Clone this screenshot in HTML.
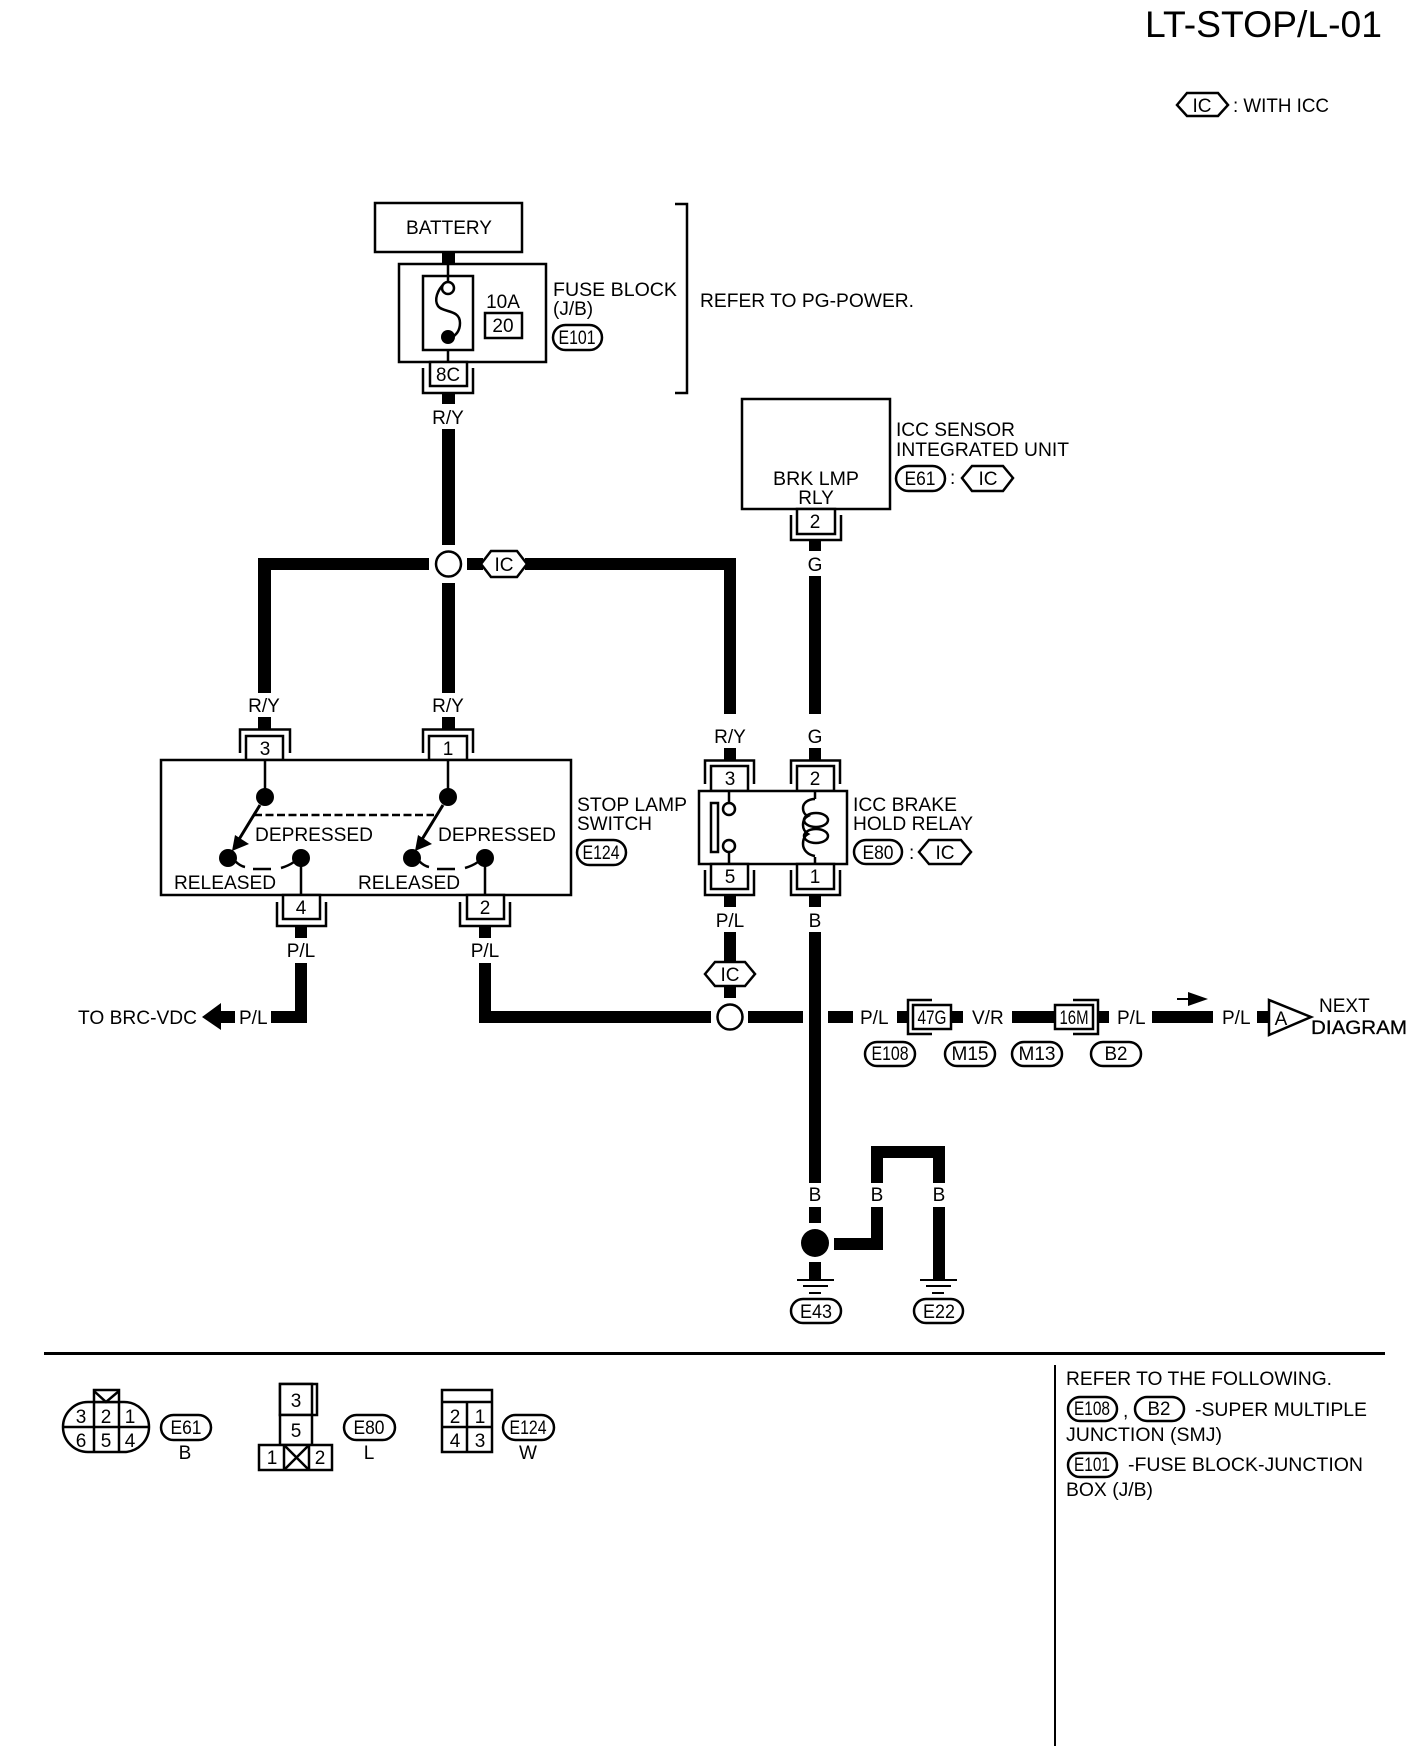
<!DOCTYPE html>
<html><head><meta charset="utf-8"><title>LT-STOP/L-01</title>
<style>
html,body{margin:0;padding:0;background:#fff;width:1408px;height:1758px;overflow:hidden}
svg{display:block}
text{font-family:"Liberation Sans",sans-serif;font-size:19px;fill:#000}
.m{text-anchor:middle}
.p{font-size:19px;text-anchor:middle}
.s{fill:none;stroke:#000;stroke-width:2.5}
.w{fill:#fff;stroke:#000;stroke-width:2.5}
.k{fill:#000}
</style></head><body>
<svg width="1408" height="1758" viewBox="0 0 1408 1758" xmlns="http://www.w3.org/2000/svg">
<rect width="1408" height="1758" fill="#fff"/>

<!-- header -->
<text x="1145" y="37" style="font-size:37px" textLength="237" lengthAdjust="spacingAndGlyphs">LT-STOP/L-01</text>
<polygon class="w" points="1177,105 1187,93 1218,93 1228,105 1218,116 1187,116"/>
<text class="p" x="1202" y="112">IC</text>
<text x="1233" y="112" textLength="96" lengthAdjust="spacingAndGlyphs">: WITH ICC</text>

<!-- wires -->
<g class="k" shape-rendering="crispEdges">
<rect x="442" y="252" width="13" height="12"/>
<rect x="442" y="393" width="13" height="11"/>
<rect x="442" y="429" width="13" height="116"/>
<rect x="442" y="583" width="13" height="110"/>
<rect x="442" y="717" width="13" height="12"/>
<rect x="258" y="558" width="171" height="12"/>
<rect x="258" y="558" width="13" height="135"/>
<rect x="258" y="717" width="13" height="12"/>
<rect x="467" y="558" width="16" height="12"/>
<rect x="525" y="558" width="211" height="12"/>
<rect x="724" y="558" width="12" height="156"/>
<rect x="724" y="748" width="12" height="12"/>
<rect x="809" y="541" width="12" height="10"/>
<rect x="809" y="576" width="12" height="138"/>
<rect x="809" y="748" width="12" height="12"/>
<rect x="724" y="895" width="12" height="12"/>
<rect x="724" y="932" width="12" height="30"/>
<rect x="724" y="987" width="12" height="11"/>
<rect x="809" y="895" width="12" height="12"/>
<rect x="809" y="932" width="12" height="251"/>
<rect x="295" y="926" width="12" height="12"/>
<rect x="295" y="963" width="12" height="60"/>
<rect x="271" y="1011" width="36" height="12"/>
<rect x="221" y="1011" width="14" height="12"/>
<rect x="479" y="926" width="12" height="12"/>
<rect x="479" y="963" width="12" height="60"/>
<rect x="479" y="1011" width="232" height="12"/>
<rect x="748" y="1011" width="55" height="12"/>
<rect x="828" y="1011" width="25" height="12"/>
<rect x="897" y="1011" width="10" height="12"/>
<rect x="951" y="1011" width="12" height="12"/>
<rect x="1012" y="1011" width="43" height="12"/>
<rect x="1098" y="1011" width="11" height="12"/>
<rect x="1152" y="1011" width="61" height="12"/>
<rect x="1257" y="1011" width="12" height="12"/>
<rect x="809" y="1207" width="12" height="16"/>
<rect x="809" y="1262" width="12" height="18"/>
<rect x="834" y="1238" width="49" height="12"/>
<rect x="871" y="1207" width="12" height="43"/>
<rect x="871" y="1146" width="12" height="37"/>
<rect x="871" y="1146" width="74" height="12"/>
<rect x="933" y="1146" width="12" height="37"/>
<rect x="933" y="1207" width="12" height="73"/>
</g>

<!-- battery + fuse block -->
<rect class="w" x="375" y="203" width="147" height="49"/>
<text class="m" x="449" y="234" textLength="86" lengthAdjust="spacingAndGlyphs">BATTERY</text>
<rect class="w" x="399" y="264" width="147" height="98"/>
<rect class="w" x="423" y="276" width="50" height="74"/>
<path class="s" d="M448,264V283M448,350V362"/>
<path class="s" d="M445,283C437,290 434,300 438,306C443,313 460,309 460,323C460,331 456,335 451,338"/>
<circle class="w" cx="448" cy="288" r="6"/>
<circle class="k" cx="448" cy="337" r="7"/>
<text class="m" x="503" y="308">10A</text>
<rect class="w" x="485" y="313" width="37" height="25"/>
<text class="p" x="503" y="332">20</text>
<text x="553" y="296" textLength="124" lengthAdjust="spacingAndGlyphs">FUSE BLOCK</text>
<text x="553" y="315">(J/B)</text>
<rect class="w" x="553" y="325" width="49" height="25" rx="12.5"/>
<text class="p" x="577" y="344" textLength="37" lengthAdjust="spacingAndGlyphs">E101</text>
<path class="s" d="M675,204H687V393H675"/>
<text x="700" y="307" textLength="214" lengthAdjust="spacingAndGlyphs">REFER TO PG-POWER.</text>
<path class="s" d="M423,368V393H473V368"/>
<rect class="w" x="430" y="362" width="37" height="24"/>
<text class="p" x="448" y="381" textLength="24" lengthAdjust="spacingAndGlyphs">8C</text>
<text class="m" x="448" y="424">R/Y</text>

<!-- junction top -->
<circle class="w" cx="448.5" cy="564" r="12.5"/>
<polygon class="w" points="481,564 491,551 517,551 527,564 517,577 491,577"/>
<text class="p" x="504" y="571">IC</text>

<!-- ICC sensor -->
<rect class="w" x="742" y="399" width="148" height="110"/>
<text class="m" x="816" y="485" textLength="86" lengthAdjust="spacingAndGlyphs">BRK LMP</text>
<text class="m" x="816" y="504">RLY</text>
<path class="s" d="M791,515V540H841V515"/>
<rect class="w" x="797" y="509" width="38" height="25"/>
<text class="p" x="815" y="528">2</text>
<text class="m" x="815" y="571">G</text>
<text x="896" y="436" textLength="119" lengthAdjust="spacingAndGlyphs">ICC SENSOR</text>
<text x="896" y="456" textLength="173" lengthAdjust="spacingAndGlyphs">INTEGRATED UNIT</text>
<rect class="w" x="896" y="466" width="49" height="25" rx="12.5"/>
<text class="p" x="920" y="485" textLength="31" lengthAdjust="spacingAndGlyphs">E61</text>
<text x="950" y="484">:</text>
<polygon class="w" points="962,478 972,466 1003,466 1013,478 1003,491 972,491"/>
<text class="p" x="988" y="485">IC</text>

<!-- stop lamp switch -->
<text class="m" x="264" y="712">R/Y</text>
<text class="m" x="448" y="712">R/Y</text>
<path class="s" d="M240,753V729.500H290V753"/>
<path class="s" d="M423,753V729.500H473V753"/>
<rect class="w" x="246" y="736" width="37" height="24"/>
<rect class="w" x="429" y="736" width="38" height="24"/>
<rect class="w" x="161" y="760" width="410" height="135"/>
<text class="p" x="265" y="755">3</text>
<text class="p" x="448" y="755">1</text>
<path class="s" d="M265,760V797M448,760V797M301,858V895M485,858V895"/>
<circle class="k" cx="265" cy="797" r="9"/>
<circle class="k" cx="448" cy="797" r="9"/>
<circle class="k" cx="228" cy="858" r="9"/>
<circle class="k" cx="301" cy="858" r="9"/>
<circle class="k" cx="412" cy="858" r="9"/>
<circle class="k" cx="485" cy="858" r="9"/>
<path d="M260,805L238,841M443,805L421,841" fill="none" stroke="#000" stroke-width="3"/>
<polygon class="k" points="232,851 235,835 249,844"/>
<polygon class="k" points="415,851 418,835 432,844"/>
<path d="M254,815H434" fill="none" stroke="#000" stroke-width="2.500" stroke-dasharray="8 3.500"/>
<path class="s" d="M235,861Q240,866 245,867M253,869H271M281,868Q288,866 294,862M419,861Q424,866 429,867M437,869H455M465,868Q472,866 478,862"/>
<text x="255" y="841" textLength="118" lengthAdjust="spacingAndGlyphs">DEPRESSED</text>
<text x="438" y="841" textLength="118" lengthAdjust="spacingAndGlyphs">DEPRESSED</text>
<text x="174" y="889" textLength="102" lengthAdjust="spacingAndGlyphs">RELEASED</text>
<text x="358" y="889" textLength="102" lengthAdjust="spacingAndGlyphs">RELEASED</text>
<path class="s" d="M277,902V926H326V902"/>
<path class="s" d="M460,902V926H510V902"/>
<rect class="w" x="283" y="895" width="37" height="24"/>
<rect class="w" x="467" y="895" width="37" height="24"/>
<text class="p" x="301" y="914">4</text>
<text class="p" x="485" y="914">2</text>
<text class="m" x="301" y="957">P/L</text>
<text class="m" x="485" y="957">P/L</text>
<text x="577" y="811" textLength="110" lengthAdjust="spacingAndGlyphs">STOP LAMP</text>
<text x="577" y="830">SWITCH</text>
<rect class="w" x="577" y="840" width="49" height="25" rx="12.500"/>
<text class="p" x="601" y="859" textLength="37" lengthAdjust="spacingAndGlyphs">E124</text>

<!-- TO BRC-VDC -->
<text x="78" y="1024" textLength="119" lengthAdjust="spacingAndGlyphs">TO BRC-VDC</text>
<polygon class="k" points="202,1017 221,1003 221,1030"/>
<text x="239" y="1024">P/L</text>

<!-- relay -->
<text class="m" x="730" y="743">R/Y</text>
<text class="m" x="815" y="743">G</text>
<path class="s" d="M705,784V760.500H754V784"/>
<path class="s" d="M791,784V760.500H840V784"/>
<rect class="w" x="711" y="766" width="37" height="25"/>
<rect class="w" x="797" y="766" width="37" height="25"/>
<text class="p" x="730" y="785">3</text>
<text class="p" x="815" y="785">2</text>
<rect class="w" x="699" y="791" width="148" height="73"/>
<rect class="w" x="711" y="803" width="7" height="49"/>
<path class="s" d="M729,791V803M729,852V864M815,791V799M815,857V864"/>
<circle class="w" cx="729" cy="809" r="6"/>
<circle class="w" cx="729" cy="846" r="6"/>
<path class="s" d="M815,799C808,799 803,803 803,808C803,812 805,815 808,816C804,818 803,822 803,825C803,829 805,832 808,834C804,836 803,840 803,844C803,850 808,855 815,856"/>
<ellipse class="s" cx="816" cy="820" rx="12" ry="7"/>
<ellipse class="s" cx="816" cy="836" rx="12" ry="7"/>
<path class="s" d="M705,870V895H754V870"/>
<path class="s" d="M791,870V895H840V870"/>
<rect class="w" x="711" y="864" width="37" height="25"/>
<rect class="w" x="797" y="864" width="37" height="25"/>
<text class="p" x="730" y="883">5</text>
<text class="p" x="815" y="883">1</text>
<text class="m" x="730" y="927">P/L</text>
<text class="m" x="815" y="927">B</text>
<text x="853" y="811" textLength="104" lengthAdjust="spacingAndGlyphs">ICC BRAKE</text>
<text x="853" y="830" textLength="120" lengthAdjust="spacingAndGlyphs">HOLD RELAY</text>
<rect class="w" x="854" y="840" width="48" height="24" rx="12"/>
<text class="p" x="878" y="859" textLength="31" lengthAdjust="spacingAndGlyphs">E80</text>
<text x="909" y="859">:</text>
<polygon class="w" points="919,852 929,840 961,840 971,852 961,864 929,864"/>
<text class="p" x="945" y="859">IC</text>

<!-- IC + lower junction -->
<polygon class="w" points="705,974 715,962 745,962 755,974 745,986 715,986"/>
<text class="p" x="730" y="981">IC</text>
<circle class="w" cx="730" cy="1017" r="12.500"/>

<!-- harness row -->
<text x="860" y="1024">P/L</text>
<path class="s" d="M932,1000H908V1034H932"/>
<rect class="w" x="913" y="1005" width="38" height="24"/>
<text class="p" x="932" y="1024" textLength="29" lengthAdjust="spacingAndGlyphs">47G</text>
<text x="972" y="1024">V/R</text>
<path class="s" d="M1073,1000H1098V1034H1073"/>
<rect class="w" x="1055" y="1005" width="38" height="24"/>
<text class="p" x="1074" y="1024" textLength="29" lengthAdjust="spacingAndGlyphs">16M</text>
<text x="1117" y="1024">P/L</text>
<text x="1222" y="1024">P/L</text>
<path d="M1177,999H1192" stroke="#000" stroke-width="2"/>
<polygon class="k" points="1188,992 1208,999 1188,1006"/>
<polygon class="w" points="1269,1000 1311,1017 1269,1035"/>
<text class="m" x="1281" y="1025">A</text>
<text x="1319" y="1012">NEXT</text>
<text x="1311" y="1034" textLength="96" lengthAdjust="spacingAndGlyphs" stroke="#000" stroke-width="0.3">DIAGRAM</text>

<rect class="w" x="865" y="1042" width="50" height="24" rx="12"/>
<text class="p" x="890" y="1060" textLength="37" lengthAdjust="spacingAndGlyphs">E108</text>
<rect class="w" x="945" y="1042" width="50" height="24" rx="12"/>
<text class="p" x="970" y="1060" textLength="37" lengthAdjust="spacingAndGlyphs">M15</text>
<rect class="w" x="1012" y="1042" width="50" height="24" rx="12"/>
<text class="p" x="1037" y="1060" textLength="37" lengthAdjust="spacingAndGlyphs">M13</text>
<rect class="w" x="1091" y="1042" width="50" height="24" rx="12"/>
<text class="p" x="1116" y="1060" textLength="23" lengthAdjust="spacingAndGlyphs">B2</text>

<!-- ground -->
<text class="m" x="815" y="1201">B</text>
<text class="m" x="877" y="1201">B</text>
<text class="m" x="939" y="1201">B</text>
<circle class="k" cx="815" cy="1243" r="14"/>
<g shape-rendering="crispEdges" class="k">
<rect x="797" y="1279" width="37" height="2"/>
<rect x="803" y="1285" width="25" height="2"/>
<rect x="809" y="1292" width="12" height="2"/>
<rect x="920" y="1279" width="37" height="2"/>
<rect x="926" y="1285" width="25" height="2"/>
<rect x="932" y="1292" width="12" height="2"/>
</g>
<rect class="w" x="791" y="1299" width="50" height="24" rx="12"/>
<text class="p" x="816" y="1318" textLength="32" lengthAdjust="spacingAndGlyphs">E43</text>
<rect class="w" x="914" y="1299" width="49" height="24" rx="12"/>
<text class="p" x="939" y="1318" textLength="32" lengthAdjust="spacingAndGlyphs">E22</text>

<!-- dividers -->
<rect x="44" y="1352" width="1341" height="3" fill="#000" shape-rendering="crispEdges"/>
<rect x="1054" y="1365" width="2" height="381" fill="#000" shape-rendering="crispEdges"/>

<!-- connector E61 -->
<rect class="w" x="63" y="1402" width="86" height="50" rx="25"/>
<rect class="w" x="94" y="1390" width="25" height="12"/>
<path class="s" d="M94,1391L106,1402L119,1391M63,1427H149M94,1402V1452M119,1402V1452"/>
<text class="p" x="81" y="1423">3</text>
<text class="p" x="106" y="1423">2</text>
<text class="p" x="130" y="1423">1</text>
<text class="p" x="81" y="1447">6</text>
<text class="p" x="106" y="1447">5</text>
<text class="p" x="130" y="1447">4</text>
<rect class="w" x="161" y="1415" width="50" height="25" rx="12.500"/>
<text class="p" x="186" y="1434" textLength="31" lengthAdjust="spacingAndGlyphs">E61</text>
<text class="p" x="185" y="1459">B</text>

<!-- connector E80 -->
<rect class="w" x="280" y="1384" width="37" height="31"/>
<rect class="w" x="280" y="1384" width="32" height="31"/>
<rect class="w" x="280" y="1415" width="32" height="30"/>
<rect class="w" x="259" y="1445" width="73" height="25"/>
<path class="s" d="M284,1445V1470M309,1445V1470M284,1445L309,1470M309,1445L284,1470"/>
<text class="p" x="296" y="1407">3</text>
<text class="p" x="296" y="1437">5</text>
<text class="p" x="272" y="1464">1</text>
<text class="p" x="320" y="1464">2</text>
<rect class="w" x="344" y="1415" width="51" height="25" rx="12.500"/>
<text class="p" x="369" y="1434" textLength="31" lengthAdjust="spacingAndGlyphs">E80</text>
<text class="p" x="369" y="1459">L</text>

<!-- connector E124 -->
<rect class="w" x="442" y="1390" width="50" height="62"/>
<path class="s" d="M442,1402H492M442,1427H492M467,1402V1452"/>
<text class="p" x="455" y="1423">2</text>
<text class="p" x="480" y="1423">1</text>
<text class="p" x="455" y="1447">4</text>
<text class="p" x="480" y="1447">3</text>
<rect class="w" x="503" y="1415" width="51" height="25" rx="12.500"/>
<text class="p" x="528" y="1434" textLength="37" lengthAdjust="spacingAndGlyphs">E124</text>
<text class="p" x="528" y="1459">W</text>

<!-- notes -->
<text x="1066" y="1385" textLength="266" lengthAdjust="spacingAndGlyphs">REFER TO THE FOLLOWING.</text>
<rect class="w" x="1068" y="1397" width="49" height="24" rx="12"/>
<text class="p" x="1092" y="1415" textLength="36" lengthAdjust="spacingAndGlyphs">E108</text>
<text x="1123" y="1417">,</text>
<rect class="w" x="1135" y="1397" width="49" height="24" rx="12"/>
<text class="p" x="1159" y="1415" textLength="23" lengthAdjust="spacingAndGlyphs">B2</text>
<text x="1195" y="1416" textLength="172" lengthAdjust="spacingAndGlyphs">-SUPER MULTIPLE</text>
<text x="1066" y="1441" textLength="156" lengthAdjust="spacingAndGlyphs">JUNCTION (SMJ)</text>
<rect class="w" x="1068" y="1453" width="49" height="24" rx="12"/>
<text class="p" x="1092" y="1471" textLength="36" lengthAdjust="spacingAndGlyphs">E101</text>
<text x="1128" y="1471" textLength="235" lengthAdjust="spacingAndGlyphs">-FUSE BLOCK-JUNCTION</text>
<text x="1066" y="1496" textLength="87" lengthAdjust="spacingAndGlyphs">BOX (J/B)</text>
</svg>
</body></html>
